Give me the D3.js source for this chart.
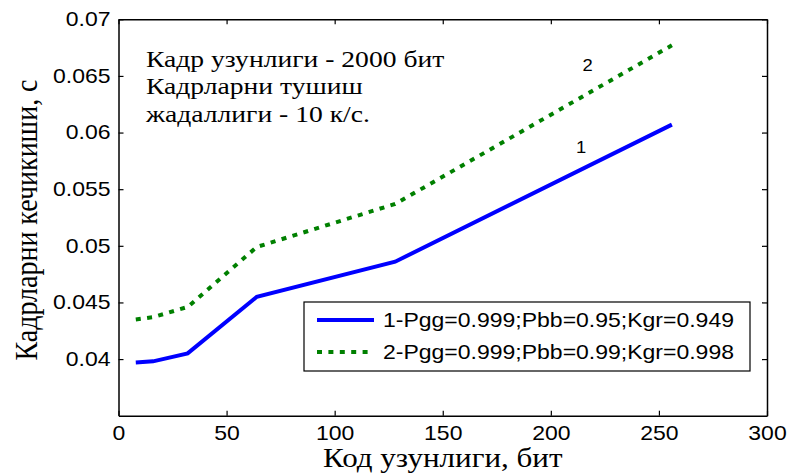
<!DOCTYPE html>
<html>
<head>
<meta charset="utf-8">
<script src="https://cdn.jsdelivr.net/npm/d3@7"></script>
<style>
body { margin: 0; background: #fff; }
</style>
</head>
<body>
<svg id="chart" width="790" height="474"></svg>
<script>
// code length (bit) and frame delay (s)
const codeLen = [8, 16, 32, 64, 128, 256]
const delay1 = [0.0397, 0.0398, 0.0405, 0.0455, 0.0486, 0.0607]
const delay2 = [0.0435, 0.0437, 0.0446, 0.0499, 0.0537, 0.0677]
const xTicks = [0, 50, 100, 150, 200, 250, 300]
const yTicks = [0.04, 0.045, 0.05, 0.055, 0.06, 0.065, 0.07]
const legendLabels = ["1-Pgg=0.999;Pbb=0.95;Kgr=0.949", "2-Pgg=0.999;Pbb=0.99;Kgr=0.998"]
const noteLines = ["Кадр узунлиги - 2000 бит", "Кадрларни тушиш", "жадаллиги - 10 к/с."]
const curveTags = [{t: "1", x: 214, y: 0.0587}, {t: "2", x: 217, y: 0.0659}]

const sx = 1.15  // the picture is a bit wider than tall
const sans = "'Liberation Sans', Arial, sans-serif"
const serif = "'Liberation Serif', 'Times New Roman', serif"

var margin = {top: 19.3, right: 23, bottom: 58.3, left: 118.5}
var W = 790, H = 474
var w = W - margin.left - margin.right, h = H - margin.top - margin.bottom

var svg = d3.select("#chart")
var g = svg.append("g").attr("transform", "translate(" + margin.left + "," + margin.top + ")")

var x = d3.scaleLinear().domain([0, 300]).range([0, w])
var y = d3.scaleLinear().domain([0.035, 0.07]).range([h, 0])

function stretchText(sel){
    sel.each(function(){
        var t = d3.select(this)
        var tx = +t.attr("x") || 0
        t.attr("x", tx / sx).attr("transform", "scale(" + sx + ",1)")
    })
}

// bottom axis
var xAxis = g.append("g")
    .attr("transform", "translate(0," + h + ")")
    .call(d3.axisBottom(x).tickValues(xTicks).tickFormat(d3.format("d")).tickSizeInner(-5).tickSizeOuter(0).tickPadding(10))
xAxis.selectAll("text").style("font-family", sans).style("font-size", "20px").attr("fill", "#000").call(stretchText)

// left axis
var yAxis = g.append("g")
    .call(d3.axisLeft(y).tickValues(yTicks).tickFormat(d => String(+d.toFixed(3))).tickSizeInner(-5).tickSizeOuter(0).tickPadding(8))
yAxis.selectAll("text").style("font-family", sans).style("font-size", "20px").attr("fill", "#000").call(stretchText)

// top and right axes, ticks only
g.append("g")
    .call(d3.axisTop(x).tickValues(xTicks).tickFormat("").tickSizeInner(-5).tickSizeOuter(0))
g.append("g")
    .attr("transform", "translate(" + w + ",0)")
    .call(d3.axisRight(y).tickValues(yTicks).tickFormat("").tickSizeInner(-5).tickSizeOuter(0))

g.selectAll(".domain").attr("stroke", "#000").attr("stroke-width", 1.5)
g.selectAll(".tick line").attr("stroke", "#000").attr("stroke-width", 1.2)

// lines
var line = d3.line().x((d, i) => x(codeLen[i])).y(d => y(d))

g.append("path")
    .datum(delay1)
    .attr("d", line)
    .attr("fill", "none")
    .attr("stroke", "#0000ff")
    .attr("stroke-width", 4)

g.append("path")
    .datum(delay2)
    .attr("d", line)
    .attr("fill", "none")
    .attr("stroke", "#008000")
    .attr("stroke-width", 4)
    .attr("stroke-dasharray", "5,6.4")

// curve numbers
g.selectAll(".tag")
    .data(curveTags)
    .enter()
    .append("text")
    .attr("class", "tag")
    .attr("transform", d => "translate(" + x(d.x) + "," + y(d.y) + ") scale(" + sx + ",1)")
    .attr("text-anchor", "middle")
    .attr("dy", "0.35em")
    .style("font-family", sans)
    .style("font-size", "16px")
    .text(d => d.t)

// annotation
g.append("g")
    .selectAll("text")
    .data(noteLines)
    .enter()
    .append("text")
    .attr("transform", (d, i) => "translate(" + x(12.7) + "," + (y(0.0658) + i * 27.5) + ") scale(" + sx + ",1)")
    .style("font-family", serif)
    .style("font-size", "24px")
    .text(d => d)

// legend
var lg = svg.append("g").attr("transform", "translate(304,302)")
lg.append("rect")
    .attr("width", 446).attr("height", 69)
    .attr("fill", "#fff").attr("stroke", "#000").attr("stroke-width", 1.2)
var rows = lg.selectAll(".row")
    .data(legendLabels)
    .enter()
    .append("g")
    .attr("class", "row")
    .attr("transform", (d, i) => "translate(0," + (18 + i * 32) + ")")
rows.append("line")
    .attr("x1", 13).attr("x2", 70)
    .attr("stroke", (d, i) => i == 0 ? "#0000ff" : "#008000")
    .attr("stroke-width", 4)
    .attr("stroke-dasharray", (d, i) => i == 0 ? null : "5,6.4")
rows.append("text")
    .attr("transform", "translate(79,0) scale(" + sx + ",1)")
    .attr("dy", "0.35em")
    .style("font-family", sans)
    .style("font-size", "20px")
    .text(d => d)

// axis titles
svg.append("text")
    .attr("transform", "translate(" + (margin.left + x(150)) + ",467) scale(" + sx + ",1)")
    .attr("text-anchor", "middle")
    .style("font-family", serif)
    .style("font-size", "27px")
    .text("Код узунлиги, бит")

svg.append("text")
    .attr("transform", "translate(37," + 220 + ") scale(" + sx + ",1) rotate(-90)")
    .attr("text-anchor", "middle")
    .style("font-family", serif)
    .style("font-size", "28px")
    .text("Кадрларни кечикиши, с")
</script>
</body>
</html>
